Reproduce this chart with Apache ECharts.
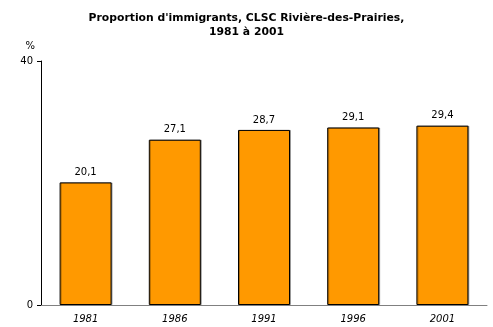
<!DOCTYPE html>
<html><head><meta charset="utf-8">
<script src="https://cdn.jsdelivr.net/npm/echarts@6/dist/echarts.min.js"></script>
<style>html,body{margin:0;padding:0;background:#fff}#c{width:493px;height:327px}</style>
</head><body><div id="c"></div>
<script>
const categories = ['1981', '1986', '1991', '1996', '2001'];
const values = [20.1, 27.1, 28.7, 29.1, 29.4];
const yTicks = [0, 40];
const titleText = "Proportion d'immigrants, CLSC Rivière-des-Prairies,\n1981 à 2001";

const chart = echarts.init(document.getElementById('c'));
const font = 'DejaVu Sans';
chart.setOption({
  animation: false,
  title: {
    text: titleText, left: 'center', top: 6,
    textStyle: {fontFamily: font, fontSize: 10.8, fontWeight: 'bold', color: '#000', lineHeight: 14}
  },
  grid: {left: 41, right: 6, top: 61, bottom: 22},
  xAxis: {
    type: 'category', data: categories,
    axisLine: {lineStyle: {color: '#808080', width: 1}},
    axisTick: {show: false},
    axisLabel: {fontFamily: font, fontSize: 10, fontStyle: 'italic', color: '#000', margin: 9}
  },
  yAxis: {
    type: 'value', min: yTicks[0], max: yTicks[yTicks.length - 1], interval: 40,
    name: '%', nameLocation: 'end', nameGap: 10,
    nameTextStyle: {fontFamily: font, fontSize: 10, color: '#000', align: 'right', padding: [0, 6, 0, 0]},
    axisLine: {show: true, lineStyle: {color: '#000', width: 1}},
    axisTick: {show: true, length: 4, lineStyle: {color: '#000'}},
    splitLine: {show: false},
    axisLabel: {fontFamily: font, fontSize: 10, color: '#000', margin: 8}
  },
  series: [{
    type: 'bar', data: values, barWidth: 52,
    itemStyle: {color: '#FF9900', borderColor: '#000', borderWidth: 1,
      shadowColor: 'rgba(0,0,0,0.3)', shadowOffsetX: 1, shadowOffsetY: 0, shadowBlur: 0},
    label: {show: true, position: 'top', distance: 5, fontFamily: font, fontSize: 10, color: '#000',
      formatter: p => String(p.value).replace('.', ',')}
  }]
});
</script></body></html>
